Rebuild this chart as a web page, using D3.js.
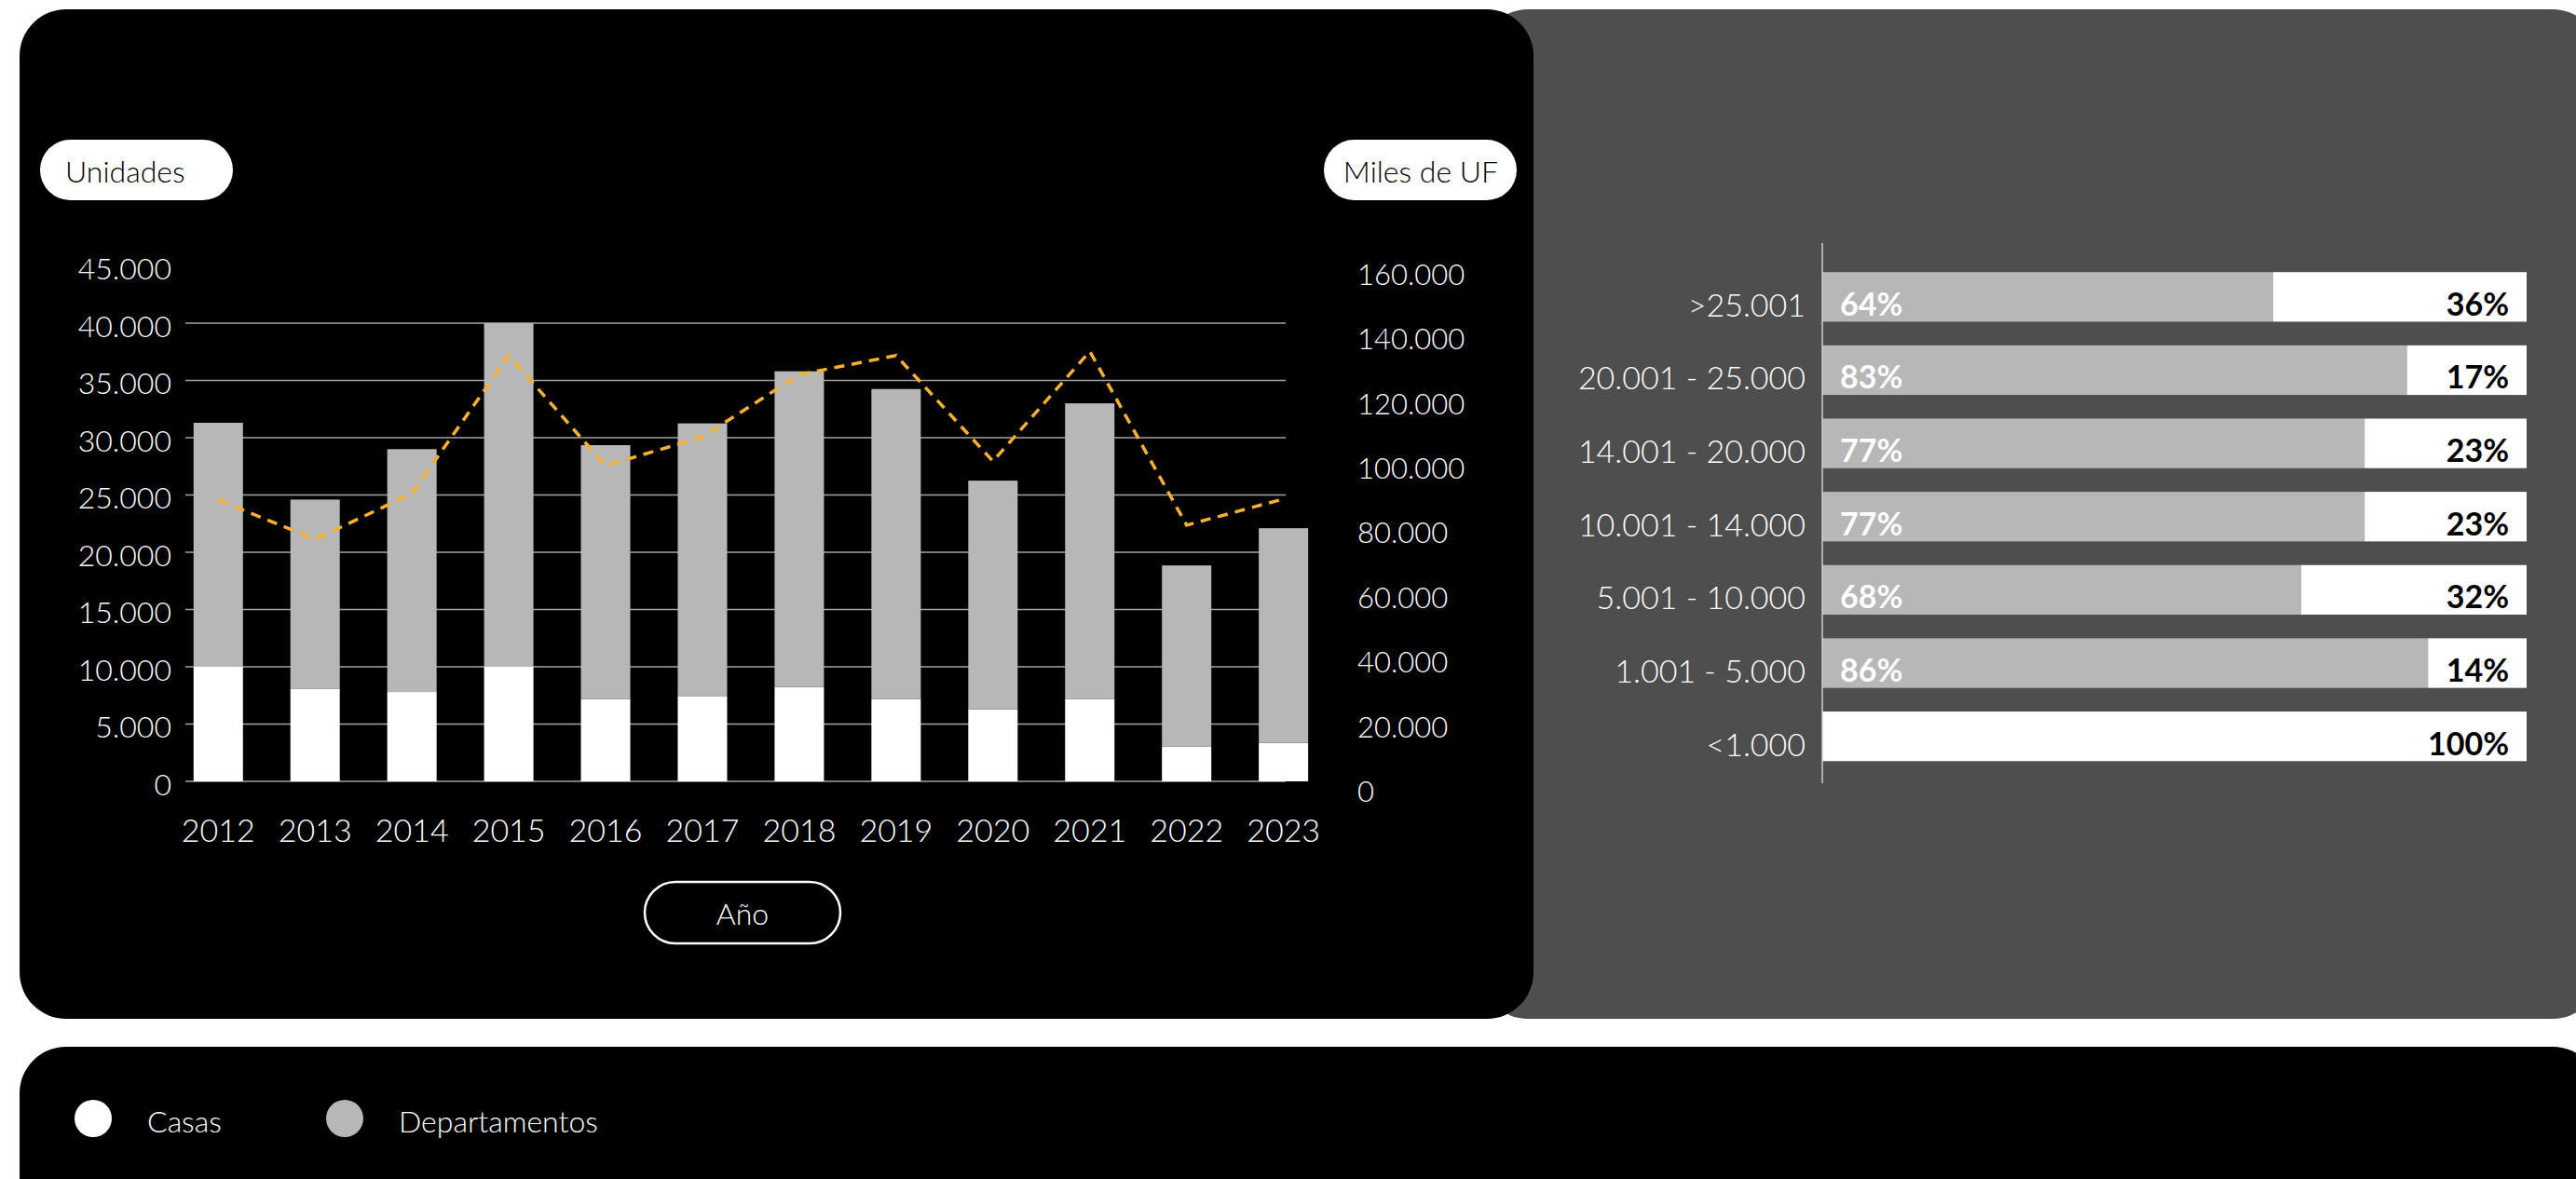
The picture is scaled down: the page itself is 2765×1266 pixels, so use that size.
<!DOCTYPE html>
<html>
  <head>
    <meta charset="UTF-8" />
    <title>Unidades vendidas y Miles de UF</title>
    <style>
      body { margin: 0; background: #ffffff; }
      svg { display: block; }
    </style>
  </head>
  <body>
    <svg></svg>

    <script src="https://d3js.org/d3.v7.min.js"></script>
    <script>
      // ---- data ----
      const years = ["2012", "2013", "2014", "2015", "2016", "2017", "2018", "2019", "2020", "2021", "2022", "2023"];
      const casas = [10000, 8100, 7800, 10000, 7200, 7450, 8250, 7200, 6300, 7200, 3050, 3350];
      const departamentos = [21300, 16500, 21200, 30000, 22150, 23800, 27550, 27050, 19950, 25800, 15800, 18750];
      const milesUF = [90000, 77800, 92000, 134700, 100600, 109500, 128800, 134700, 102000, 136000, 82200, 90300];
      const leftTicks = d3.range(0, 45001, 5000);
      const rightTicks = d3.range(0, 160001, 20000);

      const rangos = [">25.001", "20.001 - 25.000", "14.001 - 20.000", "10.001 - 14.000", "5.001 - 10.000", "1.001 - 5.000", "<1.000"];
      const pctDepartamentos = [64, 83, 77, 77, 68, 86, 0];
      const pctCasas = [36, 17, 23, 23, 32, 14, 100];

      const leyenda = ["Casas", "Departamentos"];

      const WHITE = "#ffffff", GREY = "#b7b7b7", ORANGE = "#f7b12c";
      const FONT = "Lato, 'Open Sans', sans-serif";

      let width = 2765, height = 1266;
      let svg = d3.select("svg").attr("width", width).attr("height", height)
        .style("font-family", FONT);

      // spanish number format: 45.000
      const es = d3.formatLocale({ decimal: ",", thousands: ".", grouping: [3], currency: ["$", ""] });
      const fmt = es.format(",d");

      // ---- panels ----
      svg.append("rect").attr("x", 1590).attr("y", 10).attr("width", 1200).attr("height", 1084)
        .attr("rx", 50).attr("fill", "#4e4e4e");
      svg.append("rect").attr("x", 21).attr("y", 10).attr("width", 1625).attr("height", 1084)
        .attr("rx", 50).attr("fill", "#000");
      svg.append("rect").attr("x", 21).attr("y", 1124).attr("width", 2769).attr("height", 220)
        .attr("rx", 50).attr("fill", "#000");

      // ---- left chart ----
      let x = d3.scaleBand().domain(years).range([182.3, 1429.6]).paddingInner(0.49).paddingOuter(0.245);
      let yL = d3.scaleLinear().domain([0, 45000]).range([839, 285.5]);
      let yR = d3.scaleLinear().domain([0, 160000]).range([849, 294]);

      // gridlines (no line at the top tick)
      svg.append("g").selectAll("line")
        .data(leftTicks.filter((t) => t < 45000))
        .enter().append("line")
        .attr("x1", 199).attr("x2", 1380)
        .attr("y1", (d) => yL(d)).attr("y2", (d) => yL(d))
        .attr("stroke", "#a3a3a3").attr("stroke-width", 1.6);

      // stacked bars
      let table = years.map((yr, i) => ({ year: yr, casas: casas[i], departamentos: departamentos[i] }));
      let series = d3.stack().keys(["casas", "departamentos"])(table);
      let color = d3.scaleOrdinal().domain(["casas", "departamentos"]).range([WHITE, GREY]);

      svg.append("g").selectAll("g")
        .data(series)
        .enter().append("g")
        .attr("fill", (s) => color(s.key))
        .selectAll("rect")
        .data((s) => s)
        .enter().append("rect")
        .attr("x", (d) => x(d.data.year))
        .attr("width", x.bandwidth())
        .attr("y", (d) => yL(d[1]))
        .attr("height", (d) => yL(d[0]) - yL(d[1]));

      // dashed line (right axis)
      let line = d3.line()
        .x((d, i) => x(years[i]) + x.bandwidth() / 2)
        .y((d) => yR(d));
      svg.append("path").datum(milesUF)
        .attr("d", line)
        .attr("fill", "none")
        .attr("stroke", ORANGE)
        .attr("stroke-width", 3.5)
        .attr("stroke-dasharray", "11 8");

      // axes
      let axL = svg.append("g").attr("transform", "translate(184,0)")
        .call(d3.axisLeft(yL).tickValues(leftTicks).tickFormat(fmt).tickSize(0).tickPadding(0));
      let axR = svg.append("g").attr("transform", "translate(1457,0)")
        .call(d3.axisRight(yR).tickValues(rightTicks).tickFormat(fmt).tickSize(0).tickPadding(0));
      let axB = svg.append("g").attr("transform", "translate(0,904)")
        .call(d3.axisBottom(x).tickSize(0).tickPadding(0));

      [axL, axR, axB].forEach((ax) => {
        ax.select(".domain").remove();
        ax.attr("font-family", FONT);
        ax.selectAll("text").attr("fill", WHITE).style("font-weight", 300);
      });
      axL.attr("font-size", 32).selectAll("text").attr("dy", "0.44em");
      axR.attr("font-size", 31).selectAll("text").attr("dy", "0.37em");
      axB.attr("font-size", 34).selectAll("text").attr("dy", 0);

      // pills
      function pill(px, py, w, h, label, filled, tx, anchor) {
        let g = svg.append("g");
        g.append("rect").attr("x", px).attr("y", py).attr("width", w).attr("height", h)
          .attr("rx", h / 2)
          .attr("fill", filled ? WHITE : "#000")
          .attr("stroke", filled ? "none" : WHITE)
          .attr("stroke-width", 2.5);
        g.append("text").attr("x", tx).attr("y", py + h / 2 + 13)
          .attr("text-anchor", anchor)
          .attr("font-size", 32)
          .style("font-weight", 300)
          .attr("fill", filled ? "#000" : WHITE)
          .text(label);
      }
      pill(43, 150, 207, 65, "Unidades", true, 70, "start");
      pill(1421, 150, 207, 65, "Miles de UF", true, 1525, "middle");
      pill(692, 947, 210, 66, "Año", false, 797, "middle");

      // ---- right chart: share by price range ----
      let yRow = d3.scaleBand().domain(rangos).range([279.5, 830]).paddingInner(0.323).paddingOuter(0.1615);
      let xPct = d3.scaleLinear().domain([0, 100]).range([1956, 2712]);
      let rows = rangos.map((r, i) => ({ rango: r, dep: pctDepartamentos[i], cas: pctCasas[i] }));

      let row = svg.append("g").selectAll("g")
        .data(rows)
        .enter().append("g");

      row.append("rect")
        .attr("x", xPct(0))
        .attr("y", (d) => yRow(d.rango))
        .attr("width", (d) => xPct(d.dep) - xPct(0))
        .attr("height", yRow.bandwidth())
        .attr("fill", GREY);
      row.append("rect")
        .attr("x", (d) => xPct(d.dep))
        .attr("y", (d) => yRow(d.rango))
        .attr("width", (d) => xPct(100) - xPct(d.dep))
        .attr("height", yRow.bandwidth())
        .attr("fill", WHITE);

      row.append("text")
        .attr("x", 1938)
        .attr("y", (d) => yRow(d.rango) + yRow.bandwidth() / 2 + 21)
        .attr("text-anchor", "end")
        .attr("font-size", 34)
        .style("font-weight", 300)
        .attr("fill", WHITE)
        .text((d) => d.rango);

      row.filter((d) => d.dep > 0).append("text")
        .attr("x", xPct(0) + 19)
        .attr("y", (d) => yRow(d.rango) + yRow.bandwidth() / 2 + 20)
        .attr("font-size", 34)
        .style("font-weight", 700)
        .attr("fill", WHITE)
        .text((d) => d.dep + "%");

      row.append("text")
        .attr("x", 2693)
        .attr("y", (d) => yRow(d.rango) + yRow.bandwidth() / 2 + 20)
        .attr("text-anchor", "end")
        .attr("font-size", 34)
        .style("font-weight", 700)
        .attr("fill", "#000")
        .text((d) => d.cas + "%");

      // category axis line
      svg.append("line")
        .attr("x1", 1956).attr("x2", 1956)
        .attr("y1", 261).attr("y2", 841)
        .attr("stroke", "#cfcfcf").attr("stroke-width", 1.5);

      // ---- legend ----
      let legendColor = d3.scaleOrdinal().domain(leyenda).range([WHITE, GREY]);
      let item = svg.append("g").selectAll("g")
        .data(leyenda)
        .enter().append("g")
        .attr("transform", (d, i) => "translate(" + (100 + i * 270) + ",1201)");
      item.append("circle").attr("r", 20).attr("fill", (d) => legendColor(d));
      item.append("text")
        .attr("x", 58).attr("y", 15)
        .attr("font-size", 32)
        .style("font-weight", 300)
        .attr("fill", WHITE)
        .text((d) => d);
    </script>
  </body>
</html>
